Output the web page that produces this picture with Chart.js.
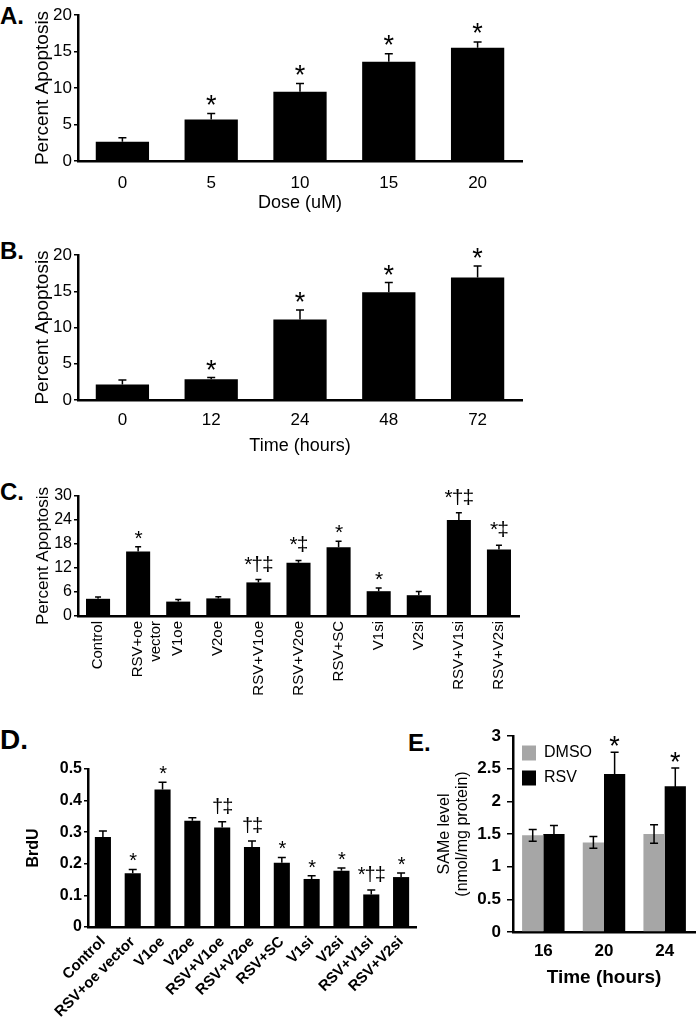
<!DOCTYPE html>
<html>
<head>
<meta charset="utf-8">
<script src="https://cdn.jsdelivr.net/npm/chart.js@4"></script>
<style>
  body { margin: 0; background: #fff; width: 700px; height: 1020px; overflow: hidden; position: relative; font-family: 'Liberation Sans', Arial, sans-serif; }
  canvas { position: absolute; }
  .tag { position: absolute; font-weight: bold; line-height: 1; color: #000; }
</style>
</head>
<body>
<div class="tag" style="left:0;top:4px;font-size:24px">A.</div>
<div class="tag" style="left:0;top:239px;font-size:24px">B.</div>
<div class="tag" style="left:0;top:480px;font-size:24px">C.</div>
<div class="tag" style="left:0;top:726px;font-size:28px">D.</div>
<div class="tag" style="left:408px;top:731px;font-size:24px">E.</div>

<canvas id="chart-dose" width="560" height="220" style="left:0;top:0"></canvas>
<canvas id="chart-hours" width="560" height="235" style="left:0;top:230px"></canvas>
<canvas id="chart-groups" width="560" height="245" style="left:0;top:470px"></canvas>
<canvas id="chart-brdu" width="440" height="280" style="left:0;top:740px"></canvas>
<canvas id="chart-same" width="285" height="320" style="left:420px;top:700px"></canvas>

<script>
// --- Data ---
const doseLabels = ['0', '5', '10', '15', '20'];
const doseApoptosis = [2.65, 5.7, 9.5, 13.6, 15.5];
const doseErr = [0.55, 0.8, 1.1, 1.1, 0.8];
const doseMarks = ['', '*', '*', '*', '*'];

const hourLabels = ['0', '12', '24', '48', '72'];
const hourApoptosis = [2.15, 2.85, 11.1, 14.85, 16.9];
const hourErr = [0.6, 0.25, 1.3, 1.35, 1.6];
const hourMarks = ['', '*', '*', '*', '*'];

const groupLabels = ['Control', ['RSV+oe', 'vector'], 'V1oe', 'V2oe', 'RSV+V1oe', 'RSV+V2oe', 'RSV+SC', 'V1si', 'V2si', 'RSV+V1si', 'RSV+V2si'];
const groupApoptosis = [4.3, 16.1, 3.6, 4.4, 8.4, 13.3, 17.2, 6.2, 5.2, 24.0, 16.6];
const groupErr = [0.45, 1.2, 0.5, 0.4, 0.7, 0.6, 1.5, 0.8, 0.9, 1.8, 1.1];
const groupMarks = ['', '*', '', '', '*†‡', '*‡', '*', '*', '', '*†‡', '*‡'];

const brduLabels = ['Control', 'RSV+oe vector', 'V1oe', 'V2oe', 'RSV+V1oe', 'RSV+V2oe', 'RSV+SC', 'V1si', 'V2si', 'RSV+V1si', 'RSV+V2si'];
const brdu = [0.285, 0.17, 0.435, 0.336, 0.315, 0.253, 0.203, 0.152, 0.178, 0.103, 0.158];
const brduErr = [0.019, 0.012, 0.023, 0.01, 0.018, 0.019, 0.017, 0.01, 0.009, 0.014, 0.013];
const brduMarks = ['', '*', '*', '', '†‡', '†‡', '*', '*', '*', '*†‡', '*'];

const sameLabels = ['16', '20', '24'];
const sameDmso = [1.48, 1.37, 1.5];
const sameDmsoErr = [0.09, 0.09, 0.14];
const sameRsv = [1.5, 2.42, 2.23];
const sameRsvErr = [0.13, 0.33, 0.28];
const sameRsvMarks = ['', '*', '*'];

const SANS = "'Liberation Sans', Arial, sans-serif";
const NARROW = "'Liberation Sans Narrow', 'Liberation Sans', Arial, sans-serif";

Chart.defaults.color = '#000';
Chart.defaults.animation = false;

// --- Error bars + significance marks ---
const errorBars = {
  id: 'errorBars',
  afterDatasetsDraw(chart, args, opts) {
    const ctx = chart.ctx;
    const y = chart.scales.y;
    chart.data.datasets.forEach((ds, i) => {
      const meta = chart.getDatasetMeta(i);
      meta.data.forEach((bar, j) => {
        const v = ds.data[j];
        const e = ds.errors[j];
        const yTop = y.getPixelForValue(v + e);
        const yBot = opts.both ? y.getPixelForValue(v - e) : bar.y;
        ctx.save();
        ctx.strokeStyle = '#000';
        ctx.lineWidth = opts.width;
        ctx.beginPath();
        ctx.moveTo(bar.x, yBot);
        ctx.lineTo(bar.x, yTop);
        ctx.moveTo(bar.x - opts.cap, yTop);
        ctx.lineTo(bar.x + opts.cap, yTop);
        if (opts.both) {
          ctx.moveTo(bar.x - opts.cap, yBot);
          ctx.lineTo(bar.x + opts.cap, yBot);
        }
        ctx.stroke();
        const mark = ds.marks ? ds.marks[j] : '';
        if (mark) {
          ctx.font = opts.font;
          ctx.fillStyle = '#000';
          ctx.textAlign = 'center';
          ctx.textBaseline = 'alphabetic';
          if (opts.spacing) ctx.letterSpacing = opts.spacing;
          const m = ctx.measureText(mark);
          ctx.fillText(mark, bar.x, yTop - opts.gap - m.actualBoundingBoxDescent);
        }
        ctx.restore();
      });
    });
  }
};

// legend with position 'chartArea' gets its top reset to 0; pin it to the plot area
const pinLegend = {
  id: 'pinLegend',
  beforeDraw(chart) {
    if (chart.legend && chart.options.plugins.legend.display) {
      const h = chart.legend.bottom - chart.legend.top;
      chart.legend.top = chart.chartArea.top;
      chart.legend.bottom = chart.chartArea.top + h;
    }
  }
};

const plainNumber = v => String(+Number(v).toFixed(2));

// --- Scale helpers ---
function yScale(o) {
  return {
    min: 0,
    max: o.max,
    afterFit: s => { s.width = o.width; },
    border: { color: '#000', width: 2.5 },
    grid: { drawOnChartArea: false, drawTicks: true, tickLength: o.tickLength || 4, color: '#000', lineWidth: 1.5 },
    ticks: { stepSize: o.step, color: '#000', padding: o.tickPad || 2, font: o.tickFont, callback: plainNumber },
    title: { display: true, text: o.title, color: '#000', font: o.titleFont, padding: { top: o.titlePad, bottom: 0 } },
  };
}

function xScale(o) {
  return {
    afterFit: s => { s.height = o.height; },
    border: { color: '#000', width: 2.5 },
    grid: { display: false, drawTicks: false },
    ticks: { color: '#000', font: o.tickFont, padding: o.tickPad, autoSkip: false, minRotation: o.rot || 0, maxRotation: o.rot || 0 },
    title: o.title
      ? { display: true, text: o.title, color: '#000', font: o.titleFont, padding: { top: 0, bottom: o.titlePad } }
      : { display: false },
  };
}

function drawBars(id, cfg) {
  return new Chart(document.getElementById(id), {
    type: 'bar',
    data: { labels: cfg.labels, datasets: cfg.datasets },
    options: {
      responsive: false,
      animation: false,
      layout: { padding: cfg.padding },
      plugins: {
        legend: cfg.legend || { display: false },
        tooltip: { enabled: false },
        errorBars: cfg.marks,
      },
      scales: { x: cfg.x, y: cfg.y },
    },
    plugins: [errorBars, pinLegend],
  });
}

function blackBars(values, errs, marks, width) {
  return {
    data: values,
    errors: errs,
    marks: marks,
    backgroundColor: '#000',
    borderWidth: 0,
    categoryPercentage: 1,
    barPercentage: width,
  };
}

// --- A: dose ---
drawBars('chart-dose', {
  labels: doseLabels,
  datasets: [blackBars(doseApoptosis, doseErr, doseMarks, 0.6)],
  padding: { top: 15, right: 38, left: 0, bottom: 0 },
  marks: { cap: 4, width: 1.5, font: `27px ${SANS}`, gap: 9 },
  x: xScale({ height: 59, tickFont: { family: NARROW, size: 17 }, tickPad: 12, title: 'Dose (uM)', titleFont: { family: NARROW, size: 18 }, titlePad: 6 }),
  y: yScale({ max: 20, step: 5, width: 78, tickFont: { family: NARROW, size: 17 }, title: 'Percent Apoptosis', titleFont: { family: SANS, size: 19 }, titlePad: 31 }),
});

// --- B: time ---
drawBars('chart-hours', {
  labels: hourLabels,
  datasets: [blackBars(hourApoptosis, hourErr, hourMarks, 0.6)],
  padding: { top: 25, right: 38, left: 0, bottom: 0 },
  marks: { cap: 4, width: 1.5, font: `27px ${SANS}`, gap: 8 },
  x: xScale({ height: 65, tickFont: { family: NARROW, size: 17 }, tickPad: 10, title: 'Time (hours)', titleFont: { family: NARROW, size: 18 }, titlePad: 8 }),
  y: yScale({ max: 20, step: 5, width: 78, tickFont: { family: NARROW, size: 17 }, title: 'Percent Apoptosis', titleFont: { family: SANS, size: 19 }, titlePad: 31 }),
});

// --- C: groups, apoptosis ---
drawBars('chart-groups', {
  labels: groupLabels,
  datasets: [blackBars(groupApoptosis, groupErr, groupMarks, 0.6)],
  padding: { top: 26, right: 41, left: 0, bottom: 0 },
  marks: { cap: 3, width: 1.5, font: `21px ${SANS}`, gap: 8, spacing: '-1px' },
  x: xScale({ height: 99, tickFont: { family: SANS, size: 15 }, tickPad: 5, rot: 90 }),
  y: yScale({ max: 30, step: 6, width: 78, tickFont: { family: NARROW, size: 16 }, title: 'Percent Apoptosis', titleFont: { family: SANS, size: 17 }, titlePad: 33 }),
});

// --- D: BrdU ---
drawBars('chart-brdu', {
  labels: brduLabels,
  datasets: [blackBars(brdu, brduErr, brduMarks, 0.54)],
  padding: { top: 29, right: 24, left: 0, bottom: 0 },
  marks: { cap: 4, width: 1.5, font: `20px ${SANS}`, gap: 8, spacing: '-1px' },
  x: xScale({ height: 93, tickFont: { family: SANS, size: 15, weight: 'bold' }, tickPad: 6, rot: 45 }),
  y: yScale({ max: 0.5, step: 0.1, width: 88, tickFont: { family: SANS, size: 16, weight: 'bold' }, title: 'BrdU', titleFont: { family: SANS, size: 16, weight: 'bold' }, titlePad: 24 }),
});

// --- E: SAMe ---
drawBars('chart-same', {
  labels: sameLabels,
  datasets: [
    { label: 'DMSO', data: sameDmso, errors: sameDmsoErr, marks: [], backgroundColor: '#a6a6a6', borderWidth: 0, categoryPercentage: 0.7, barPercentage: 1 },
    { label: 'RSV', data: sameRsv, errors: sameRsvErr, marks: sameRsvMarks, backgroundColor: '#000', borderWidth: 0, categoryPercentage: 0.7, barPercentage: 1 },
  ],
  padding: { top: 36, right: 10, left: 0, bottom: 0 },
  legend: {
    display: true,
    position: 'chartArea',
    align: 'start',
    labels: { boxWidth: 14, boxHeight: 15, padding: 9, color: '#000', font: { family: SANS, size: 16 } },
  },
  marks: { cap: 4, width: 1.5, both: true, font: `27px ${SANS}`, gap: 6 },
  x: xScale({ height: 88, tickFont: { family: SANS, size: 17, weight: 'bold' }, tickPad: 9, title: 'Time (hours)', titleFont: { family: SANS, size: 19, weight: 'bold' }, titlePad: 31 }),
  y: yScale({ max: 3, step: 0.5, width: 93, tickLength: 6, tickPad: 6, tickFont: { family: SANS, size: 17, weight: 'bold' }, title: ['SAMe level', '(nmol/mg protein)'], titleFont: { family: SANS, size: 16, lineHeight: 1.1 }, titlePad: 16 }),
});
</script>
</body>
</html>
